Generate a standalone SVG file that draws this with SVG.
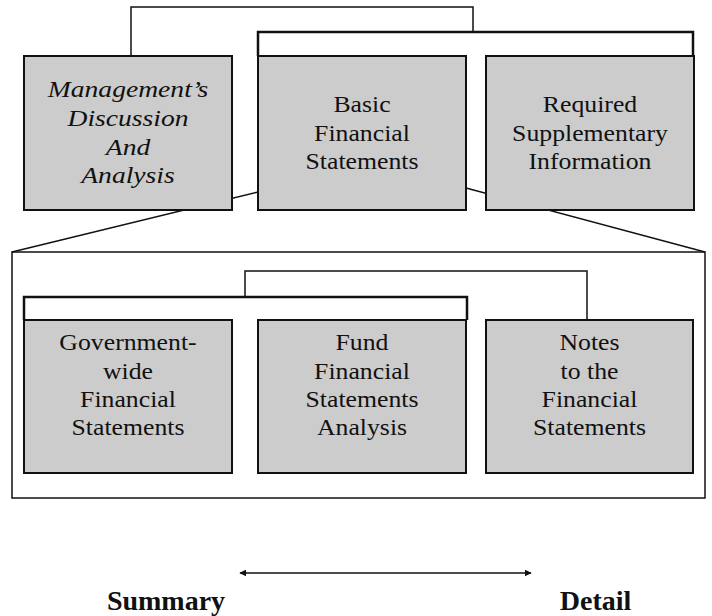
<svg xmlns="http://www.w3.org/2000/svg" width="712" height="616" viewBox="0 0 712 616">
<style>
.box{fill:#cccccc;stroke:#111;stroke-width:2}
.t{font-family:"Liberation Serif","Times New Roman",serif;font-size:23px;fill:#111;text-anchor:middle}
.ti{font-family:"Liberation Serif","Times New Roman",serif;font-size:23px;font-style:italic;fill:#111;text-anchor:middle}
.tb{font-family:"Liberation Serif","Times New Roman",serif;font-size:28px;font-weight:bold;fill:#111;text-anchor:middle}
.conn{fill:none;stroke:#111;stroke-width:1.5}
.brk{fill:none;stroke:#111;stroke-width:2.5}
</style>
<defs>
<marker id="ah" viewBox="0 0 10 10" refX="9" refY="5" markerWidth="7" markerHeight="7" markerUnits="userSpaceOnUse" orient="auto-start-reverse">
<path d="M0,0 L10,5 L0,10 z" fill="#111"/>
</marker>
</defs>
<g id="connectors">
<rect x="12" y="252" width="693" height="246" class="conn"/>
<line x1="12" y1="252" x2="258" y2="192" class="conn"/>
<line x1="466" y1="188" x2="705" y2="252" class="conn"/>
<path d="M131,56 V7 H473 V32" class="conn"/>
<path d="M258,56 V32 H693 V56" class="brk"/>
<path d="M245,297 V271 H587 V320" class="conn"/>
<path d="M24,320 V297 H467 V320" class="brk"/>
<line x1="240" y1="573" x2="531" y2="573" stroke="#111" stroke-width="1.5" marker-start="url(#ah)" marker-end="url(#ah)"/>
</g>
<g id="mda">
<rect x="24" y="56" width="208" height="154" class="box"/>
<g transform="translate(128,0) scale(1.2,1)">
<text class="ti" x="0" y="97">Management’s</text>
<text class="ti" x="0" y="126">Discussion</text>
<text class="ti" x="0" y="155">And</text>
<text class="ti" x="0" y="183">Analysis</text>
</g>
</g>
<g id="basic">
<rect x="258" y="56" width="208" height="154" class="box"/>
<g transform="translate(362,0) scale(1.12,1)">
<text class="t" x="0" y="112.5">Basic</text>
<text class="t" x="0" y="140.8">Financial</text>
<text class="t" x="0" y="169">Statements</text>
</g>
</g>
<g id="rsi">
<rect x="486" y="56" width="208" height="154" class="box"/>
<g transform="translate(590,0) scale(1.12,1)">
<text class="t" x="0" y="112.5">Required</text>
<text class="t" x="0" y="140.8">Supplementary</text>
<text class="t" x="0" y="169">Information</text>
</g>
</g>
<g id="gov">
<rect x="24" y="320" width="208" height="153" class="box"/>
<g transform="translate(128,0) scale(1.12,1)">
<text class="t" x="0" y="350.5">Government-</text>
<text class="t" x="0" y="378.8">wide</text>
<text class="t" x="0" y="407.3">Financial</text>
<text class="t" x="0" y="435.5">Statements</text>
</g>
</g>
<g id="fund">
<rect x="258" y="320" width="208" height="153" class="box"/>
<g transform="translate(362,0) scale(1.12,1)">
<text class="t" x="0" y="350.5">Fund</text>
<text class="t" x="0" y="378.8">Financial</text>
<text class="t" x="0" y="407.3">Statements</text>
<text class="t" x="0" y="435.5">Analysis</text>
</g>
</g>
<g id="notes">
<rect x="486" y="320" width="207" height="153" class="box"/>
<g transform="translate(589.5,0) scale(1.12,1)">
<text class="t" x="0" y="350.5">Notes</text>
<text class="t" x="0" y="378.8">to the</text>
<text class="t" x="0" y="407.3">Financial</text>
<text class="t" x="0" y="435.5">Statements</text>
</g>
</g>
<g id="scale-labels">
<text class="tb" x="166" y="610">Summary</text>
<text class="tb" x="595.5" y="610">Detail</text>
</g>
</svg>
